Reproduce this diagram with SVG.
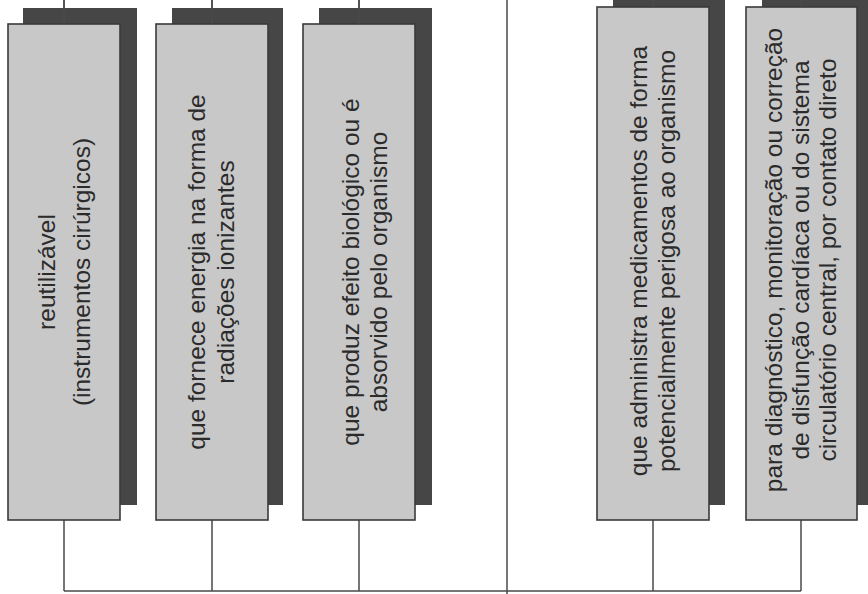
<svg xmlns="http://www.w3.org/2000/svg" width="868" height="594" viewBox="0 0 868 594">
<defs>
<style>
.shadow{fill:#464646;}
.box{fill:#c8c8c8;stroke:#3a3a3a;stroke-width:1.6;}
.lbl{font-family:"Liberation Sans",Arial,sans-serif;font-size:24.5px;fill:#2b2b2b;text-anchor:middle;}
.conn{fill:none;stroke:#4a4a4a;stroke-width:1.5;}
</style>
</defs>
<rect x="0" y="0" width="868" height="594" fill="#ffffff"/>
<g id="connectors">
<path class="conn" d="M64,0V24 M212,0V24 M359,0V24 M653,0V7 M801,0V7"/>
<path class="conn" d="M64,520V591 M212,520V591 M359,520V591 M653,520V591 M801,520V591 M64,591H801"/>
<path class="conn" d="M507,0V594"/>
</g>
<g id="node1">
<rect class="shadow" x="23" y="8" width="114" height="497"/>
<rect class="box" x="8" y="24" width="112" height="496"/>
<path class="conn" d="M64,0V24"/>
<text class="lbl" transform="translate(0,272) rotate(-90)"><tspan x="0" y="55">reutilizável</tspan><tspan x="0" y="90">(instrumentos cirúrgicos)</tspan></text>
</g>
<g id="node2">
<rect class="shadow" x="172" y="8" width="111" height="497"/>
<rect class="box" x="156" y="24" width="112" height="496"/>
<path class="conn" d="M212,0V24"/>
<text class="lbl" transform="translate(0,272) rotate(-90)"><tspan x="0" y="205">que fornece energia na forma de</tspan><tspan x="0" y="234">radiações ionizantes</tspan></text>
</g>
<g id="node3">
<rect class="shadow" x="319" y="8" width="113" height="497"/>
<rect class="box" x="303" y="24" width="112" height="496"/>
<path class="conn" d="M359,0V24"/>
<text class="lbl" transform="translate(0,272) rotate(-90)"><tspan x="0" y="359">que produz efeito biológico ou é</tspan><tspan x="0" y="387">absorvido pelo organismo</tspan></text>
</g>
<g id="node4">
<rect class="shadow" x="613" y="-10" width="112" height="515"/>
<rect class="box" x="597" y="7" width="112" height="513"/>
<path class="conn" d="M653,0V7"/>
<text class="lbl" transform="translate(0,261) rotate(-90)"><tspan x="0" y="647">que administra medicamentos de forma</tspan><tspan x="0" y="675">potencialmente perigosa ao organismo</tspan></text>
</g>
<g id="node5">
<rect class="shadow" x="762" y="-10" width="112" height="515"/>
<rect class="box" x="746" y="7" width="111" height="513"/>
<path class="conn" d="M801,0V7"/>
<text class="lbl" transform="translate(0,260) rotate(-90)"><tspan x="0" y="782">para diagnóstico, monitoração ou correção</tspan><tspan x="0" y="809">de disfunção cardíaca ou do sistema</tspan><tspan x="0" y="836">circulatório central, por contato direto</tspan></text>
</g>
</svg>
